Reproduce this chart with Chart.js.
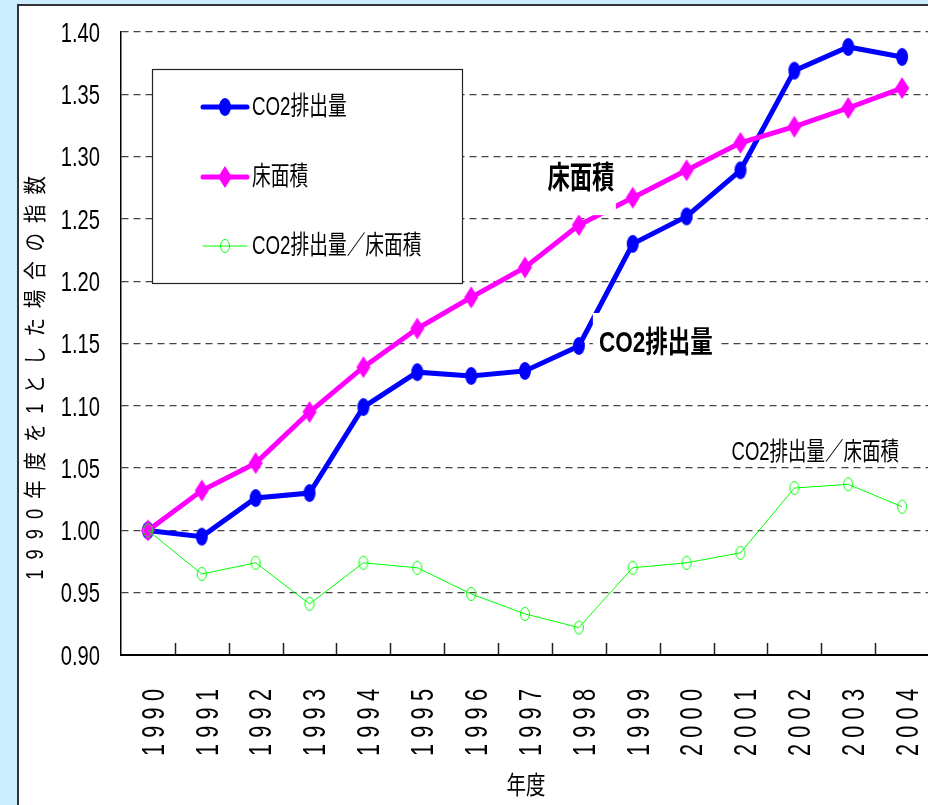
<!DOCTYPE html>
<html>
<head>
<meta charset="utf-8">
<script src="https://cdn.jsdelivr.net/npm/chart.js@4.4.1/dist/chart.umd.min.js"></script>
<style>
  html, body { margin: 0; padding: 0; overflow: hidden; background: #ccecff; }
  #wrap { width: 928px; height: 805px; overflow: hidden; }
</style>
</head>
<body>
<div id="wrap"><canvas id="chart" width="940" height="805"></canvas></div>
<script>
// 1990年度 = 1 とした指数
const years = ['1990', '1991', '1992', '1993', '1994', '1995', '1996', '1997',
               '1998', '1999', '2000', '2001', '2002', '2003', '2004'];
const co2 = [1.000, 0.995, 1.026, 1.030, 1.099, 1.127, 1.124, 1.128,
             1.148, 1.230, 1.252, 1.289, 1.369, 1.388, 1.380];
const floorArea = [1.000, 1.032, 1.054, 1.095, 1.131, 1.162, 1.187, 1.211,
                   1.245, 1.267, 1.289, 1.311, 1.324, 1.339, 1.355];
const perArea = [1.000, 0.965, 0.974, 0.941, 0.974, 0.970, 0.949, 0.933,
                 0.922, 0.970, 0.974, 0.982, 1.034, 1.037, 1.019];
const seriesNames = ['CO2排出量', '床面積', 'CO2排出量／床面積'];
const yTitle = '1990年度を1とした場合の指数';
const xTitle = '年度';

const JP = "'Liberation Sans', 'Noto Sans CJK JP', sans-serif";

// marker images (tall ellipse / tall diamond like the old Excel markers)
function ellipseMarker(rx, ry, fill, stroke, lw) {
  const c = document.createElement('canvas');
  c.width = Math.ceil(rx * 2 + lw + 2);
  c.height = Math.ceil(ry * 2 + lw + 2);
  const g = c.getContext('2d');
  g.beginPath();
  g.ellipse(c.width / 2, c.height / 2, rx, ry, 0, 0, Math.PI * 2);
  if (fill) { g.fillStyle = fill; g.fill(); }
  if (stroke) { g.strokeStyle = stroke; g.lineWidth = lw; g.stroke(); }
  return c;
}
function diamondMarker(hw, hh, fill) {
  const c = document.createElement('canvas');
  c.width = Math.ceil(hw * 2 + 2);
  c.height = Math.ceil(hh * 2 + 2);
  const g = c.getContext('2d');
  const cx = c.width / 2, cy = c.height / 2;
  g.beginPath();
  g.moveTo(cx, cy - hh); g.lineTo(cx + hw, cy);
  g.lineTo(cx, cy + hh); g.lineTo(cx - hw, cy);
  g.closePath();
  g.fillStyle = fill; g.fill();
  return c;
}
const blueDot = ellipseMarker(6, 9, '#0000ff', null, 0);
const pinkDiamond = diamondMarker(7, 11, '#ff00ff');
const greenRing = ellipseMarker(4.5, 6.5, null, '#00ff00', 1);

// horizontally condensed text
function squeezed(ctx, text, x, y, font, sx, align) {
  ctx.save();
  ctx.font = font;
  ctx.fillStyle = '#000';
  ctx.textAlign = align || 'center';
  ctx.textBaseline = 'middle';
  ctx.translate(x, y);
  ctx.scale(sx, 1);
  ctx.fillText(text, 0, 0);
  ctx.restore();
}

// text rotated to read bottom-to-top, letter by letter with a gap;
// anchor 'center' centres it on y, anchor 'end' puts its last letter at y
function spacedVertical(ctx, text, cx, y, font, sx, gap, anchor) {
  ctx.save();
  ctx.font = font;
  ctx.fillStyle = '#000';
  const chars = [...text];
  const widths = chars.map(c => ctx.measureText(c).width * sx);
  const total = widths.reduce((a, b) => a + b, 0) + gap * (chars.length - 1);
  ctx.translate(cx, y);
  ctx.rotate(-Math.PI / 2);
  ctx.textAlign = 'left';
  ctx.textBaseline = 'middle';
  let pos = anchor === 'end' ? -total : -total / 2;
  chars.forEach((c, i) => {
    ctx.save();
    ctx.translate(pos, 0);
    ctx.scale(sx, 1);
    ctx.fillText(c, 0, 0);
    ctx.restore();
    pos += widths[i] + gap;
  });
  ctx.restore();
}

// page frame
const frame = {
  id: 'frame',
  beforeDraw(chart) {
    const ctx = chart.ctx;
    ctx.save();
    ctx.fillStyle = '#ccecff';
    ctx.fillRect(0, 0, chart.width, chart.height);
    ctx.fillStyle = '#ffffff';
    ctx.fillRect(18, 5, chart.width, chart.height);
    ctx.strokeStyle = '#333';
    ctx.lineWidth = 2;
    ctx.beginPath();
    ctx.moveTo(18, chart.height); ctx.lineTo(18, 5); ctx.lineTo(chart.width, 5);
    ctx.stroke();
    ctx.restore();
  }
};

// tick labels in the condensed style, plus short tick marks between
// categories pointing up into the plot
const axisLabels = {
  id: 'axisLabels',
  beforeDatasetsDraw(chart) {
    const ctx = chart.ctx, xs = chart.scales.x, ys = chart.scales.y;
    const area = chart.chartArea;
    ctx.save();
    ctx.strokeStyle = '#222';
    ctx.lineWidth = 1.5;
    ctx.beginPath();
    for (let i = 1; i < years.length; i++) {
      const x = Math.round((xs.getPixelForValue(i - 1) + xs.getPixelForValue(i)) / 2) + 0.5;
      ctx.moveTo(x, area.bottom);
      ctx.lineTo(x, area.bottom - 12);
    }
    ctx.stroke();
    ctx.restore();

    ys.ticks.forEach(t => {
      squeezed(ctx, t.value.toFixed(2), area.left - 21, ys.getPixelForValue(t.value) + 2,
               '28px ' + JP, 0.72, 'right');
    });
    xs.ticks.forEach((t, i) => {
      spacedVertical(ctx, years[i], xs.getPixelForValue(i) + 7, area.bottom + 34,
                     '32px ' + JP, 0.68, 6.2, 'end');
    });
  }
};

// axis titles, in-plot series labels and the boxed legend
const decorations = {
  id: 'decorations',
  afterDatasetsDraw(chart) {
    const ctx = chart.ctx, xs = chart.scales.x, ys = chart.scales.y;
    const area = chart.chartArea;

    spacedVertical(ctx, yTitle, 37, 378, '23px ' + JP, 0.8, 10, 'center');
    squeezed(ctx, xTitle, xs.getPixelForValue(7) + 1, 787, '25px ' + JP, 0.78);

    // series labels with white backing
    const fx = xs.getPixelForValue(8), fy = ys.getPixelForValue(floorArea[8]);
    ctx.fillStyle = '#fff';
    ctx.fillRect(fx - 36, fy - 65, 73, 55);
    squeezed(ctx, seriesNames[1], fx + 2, fy - 46, 'bold 31px ' + JP, 0.72);

    const cx = xs.getPixelForValue(8), cy = ys.getPixelForValue(co2[8]);
    ctx.fillStyle = '#fff';
    ctx.fillRect(cx + 14, cy - 33, 124, 60);
    squeezed(ctx, seriesNames[0], cx + 77, cy - 2, 'bold 30px ' + JP, 0.75);

    const gx = xs.getPixelForValue(12), gy = ys.getPixelForValue(perArea[12]);
    squeezed(ctx, seriesNames[2], gx + 21, gy - 35, '25px ' + JP, 0.74);

    // legend
    const lx = area.left + 31, ly = area.top + 37;
    ctx.save();
    ctx.fillStyle = '#fff';
    ctx.fillRect(lx, ly, 310, 214);
    ctx.strokeStyle = '#222';
    ctx.lineWidth = 1.2;
    ctx.strokeRect(lx + 0.5, ly + 0.5, 310, 214);
    const rows = [ly + 38, ly + 108, ly + 177];
    chart.data.datasets.forEach((ds, i) => {
      const y = rows[i];
      ctx.strokeStyle = ds.borderColor;
      ctx.lineWidth = ds.borderWidth;
      ctx.lineCap = 'round';
      ctx.beginPath();
      ctx.moveTo(lx + 51, y);
      ctx.lineTo(lx + 95, y);
      ctx.stroke();
      const img = ds.pointStyle;
      ctx.drawImage(img, lx + 73 - img.width / 2, y - img.height / 2);
      squeezed(ctx, ds.label, lx + 100, y + 1, '26px ' + JP, 0.72, 'left');
    });
    ctx.restore();
  }
};

new Chart(document.getElementById('chart'), {
  type: 'line',
  data: {
    labels: years,
    datasets: [
      { label: seriesNames[0], data: co2, borderColor: '#0000ff', borderWidth: 5,
        pointStyle: blueDot, pointRadius: 6, order: 3 },
      { label: seriesNames[1], data: floorArea, borderColor: '#ff00ff', borderWidth: 5,
        pointStyle: pinkDiamond, pointRadius: 6, order: 2 },
      { label: seriesNames[2], data: perArea, borderColor: '#00ff00', borderWidth: 1,
        pointStyle: greenRing, pointRadius: 5, order: 1 }
    ]
  },
  options: {
    responsive: false,
    animation: false,
    devicePixelRatio: 1,
    events: [],
    layout: { padding: { top: 32, right: 9, left: 0, bottom: 0 } },
    plugins: {
      legend: { display: false },
      title: { display: false },
      tooltip: { enabled: false }
    },
    scales: {
      x: {
        offset: true,
        grid: { display: false },
        border: { display: true, color: '#000', width: 2 },
        ticks: { display: false, autoSkip: false },
        afterFit: s => { s.height = 150; }
      },
      y: {
        min: 0.9,
        max: 1.4,
        grid: { color: '#444', lineWidth: 1.3, drawTicks: false },
        border: { display: true, color: '#000', width: 1.5, dash: [7, 5] },
        ticks: { display: false, stepSize: 0.05 },
        afterFit: s => { s.width = 121; }
      }
    }
  },
  plugins: [frame, axisLabels, decorations]
});
</script>
</body>
</html>
